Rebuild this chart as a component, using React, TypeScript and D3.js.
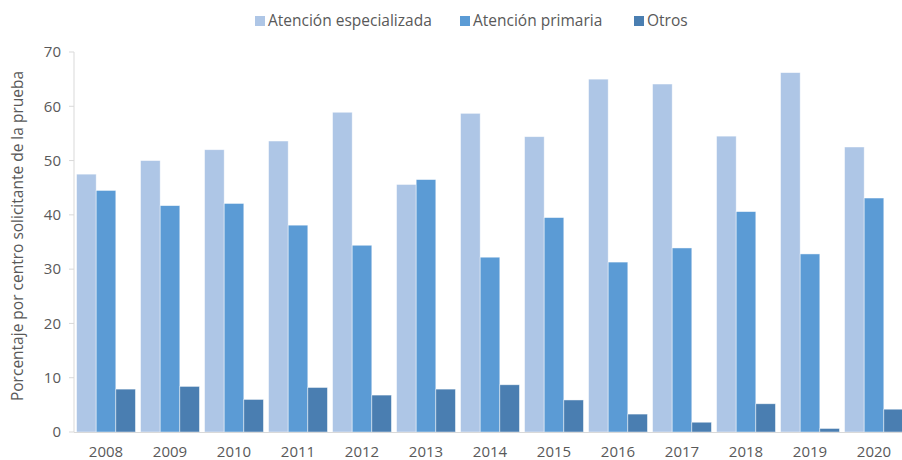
import React from "react";
import * as d3 from "d3";

const years = ["2008","2009","2010","2011","2012","2013","2014","2015","2016","2017","2018","2019","2020"];
const especializada = [47.5, 50.0, 52.0, 53.6, 58.9, 45.6, 58.7, 54.4, 65.0, 64.1, 54.5, 66.2, 52.5];
const primaria = [44.5, 41.7, 42.1, 38.1, 34.4, 46.5, 32.2, 39.5, 31.3, 33.9, 40.6, 32.8, 43.1];
const otros = [7.9, 8.4, 6.0, 8.2, 6.8, 7.9, 8.7, 5.9, 3.3, 1.8, 5.2, 0.65, 4.2];
const seriesNames = ["Atención especializada", "Atención primaria", "Otros"];
const seriesColors = ["#aec6e6", "#5b9bd5", "#4a7eb1"];
const yTicks = [0, 10, 20, 30, 40, 50, 60, 70];
const yTitle = "Porcentaje por centro solicitante de la prueba";

const W = 902, H = 460;
const FONT = "'Open Sans', 'DejaVu Sans', sans-serif";
const TEXT = "#595959";

export default function App() {
  const x0 = d3.scaleBand<string>().domain(years).range([74, 906]).paddingInner(0.08).paddingOuter(0.04);
  const x1 = d3.scaleBand<string>().domain(seriesNames).range([0, x0.bandwidth()]).padding(0);
  const y = d3.scaleLinear().domain([0, 70]).range([432, 52]);
  const data = [especializada, primaria, otros];
  const legendX = [255, 460, 634];

  return (
    <svg width={W} height={H} style={{ position: "absolute", left: 0, top: 0, overflow: "hidden", background: "#fff" }}>
      <rect width={W} height={H} fill="#fff" />
      {/* legend */}
      {seriesNames.map((s, i) => (
        <g key={s}>
          <rect x={legendX[i]} y={16} width={10} height={10} fill={seriesColors[i]} />
          <text x={legendX[i] + 13} y={21} dy="0.35em" fontFamily={FONT} fontSize={15.5} fill={TEXT}>{s}</text>
        </g>
      ))}
      {/* bars */}
      {years.map((yr, i) => (
        <g key={yr} transform={`translate(${x0(yr)},0)`}>
          {data.map((arr, j) => (
            <rect key={j} x={x1(seriesNames[j])} y={y(arr[i])} width={x1.bandwidth()} height={y(0) - y(arr[i])}
              fill={seriesColors[j]} stroke="#ffffff" strokeOpacity={0.6} strokeWidth={0.75} />
          ))}
        </g>
      ))}
      {/* y axis */}
      <line x1={74} x2={74} y1={52} y2={432} stroke="#d9d9d9" />
      {yTicks.map(t => (
        <g key={t}>
          <line x1={69} x2={74} y1={y(t)} y2={y(t)} stroke="#d9d9d9" />
          <text x={61} y={y(t)} dy="0.35em" textAnchor="end" fontFamily={FONT} fontSize={15} fill={TEXT}>{t}</text>
        </g>
      ))}
      {/* x axis */}
      <line x1={74} x2={906} y1={432.5} y2={432.5} stroke="#d9d9d9" />
      {years.map(yr => (
        <text key={yr} x={(x0(yr) as number) + x0.bandwidth() / 2} y={452} dy="0.35em" textAnchor="middle"
          fontFamily={FONT} fontSize={15} fill={TEXT}>{yr}</text>
      ))}
      <text transform={`translate(18,236) rotate(-90)`} textAnchor="middle" dy="0.35em" fontFamily={FONT} fontSize={15.5} fill={TEXT}>{yTitle}</text>
    </svg>
  );
}
